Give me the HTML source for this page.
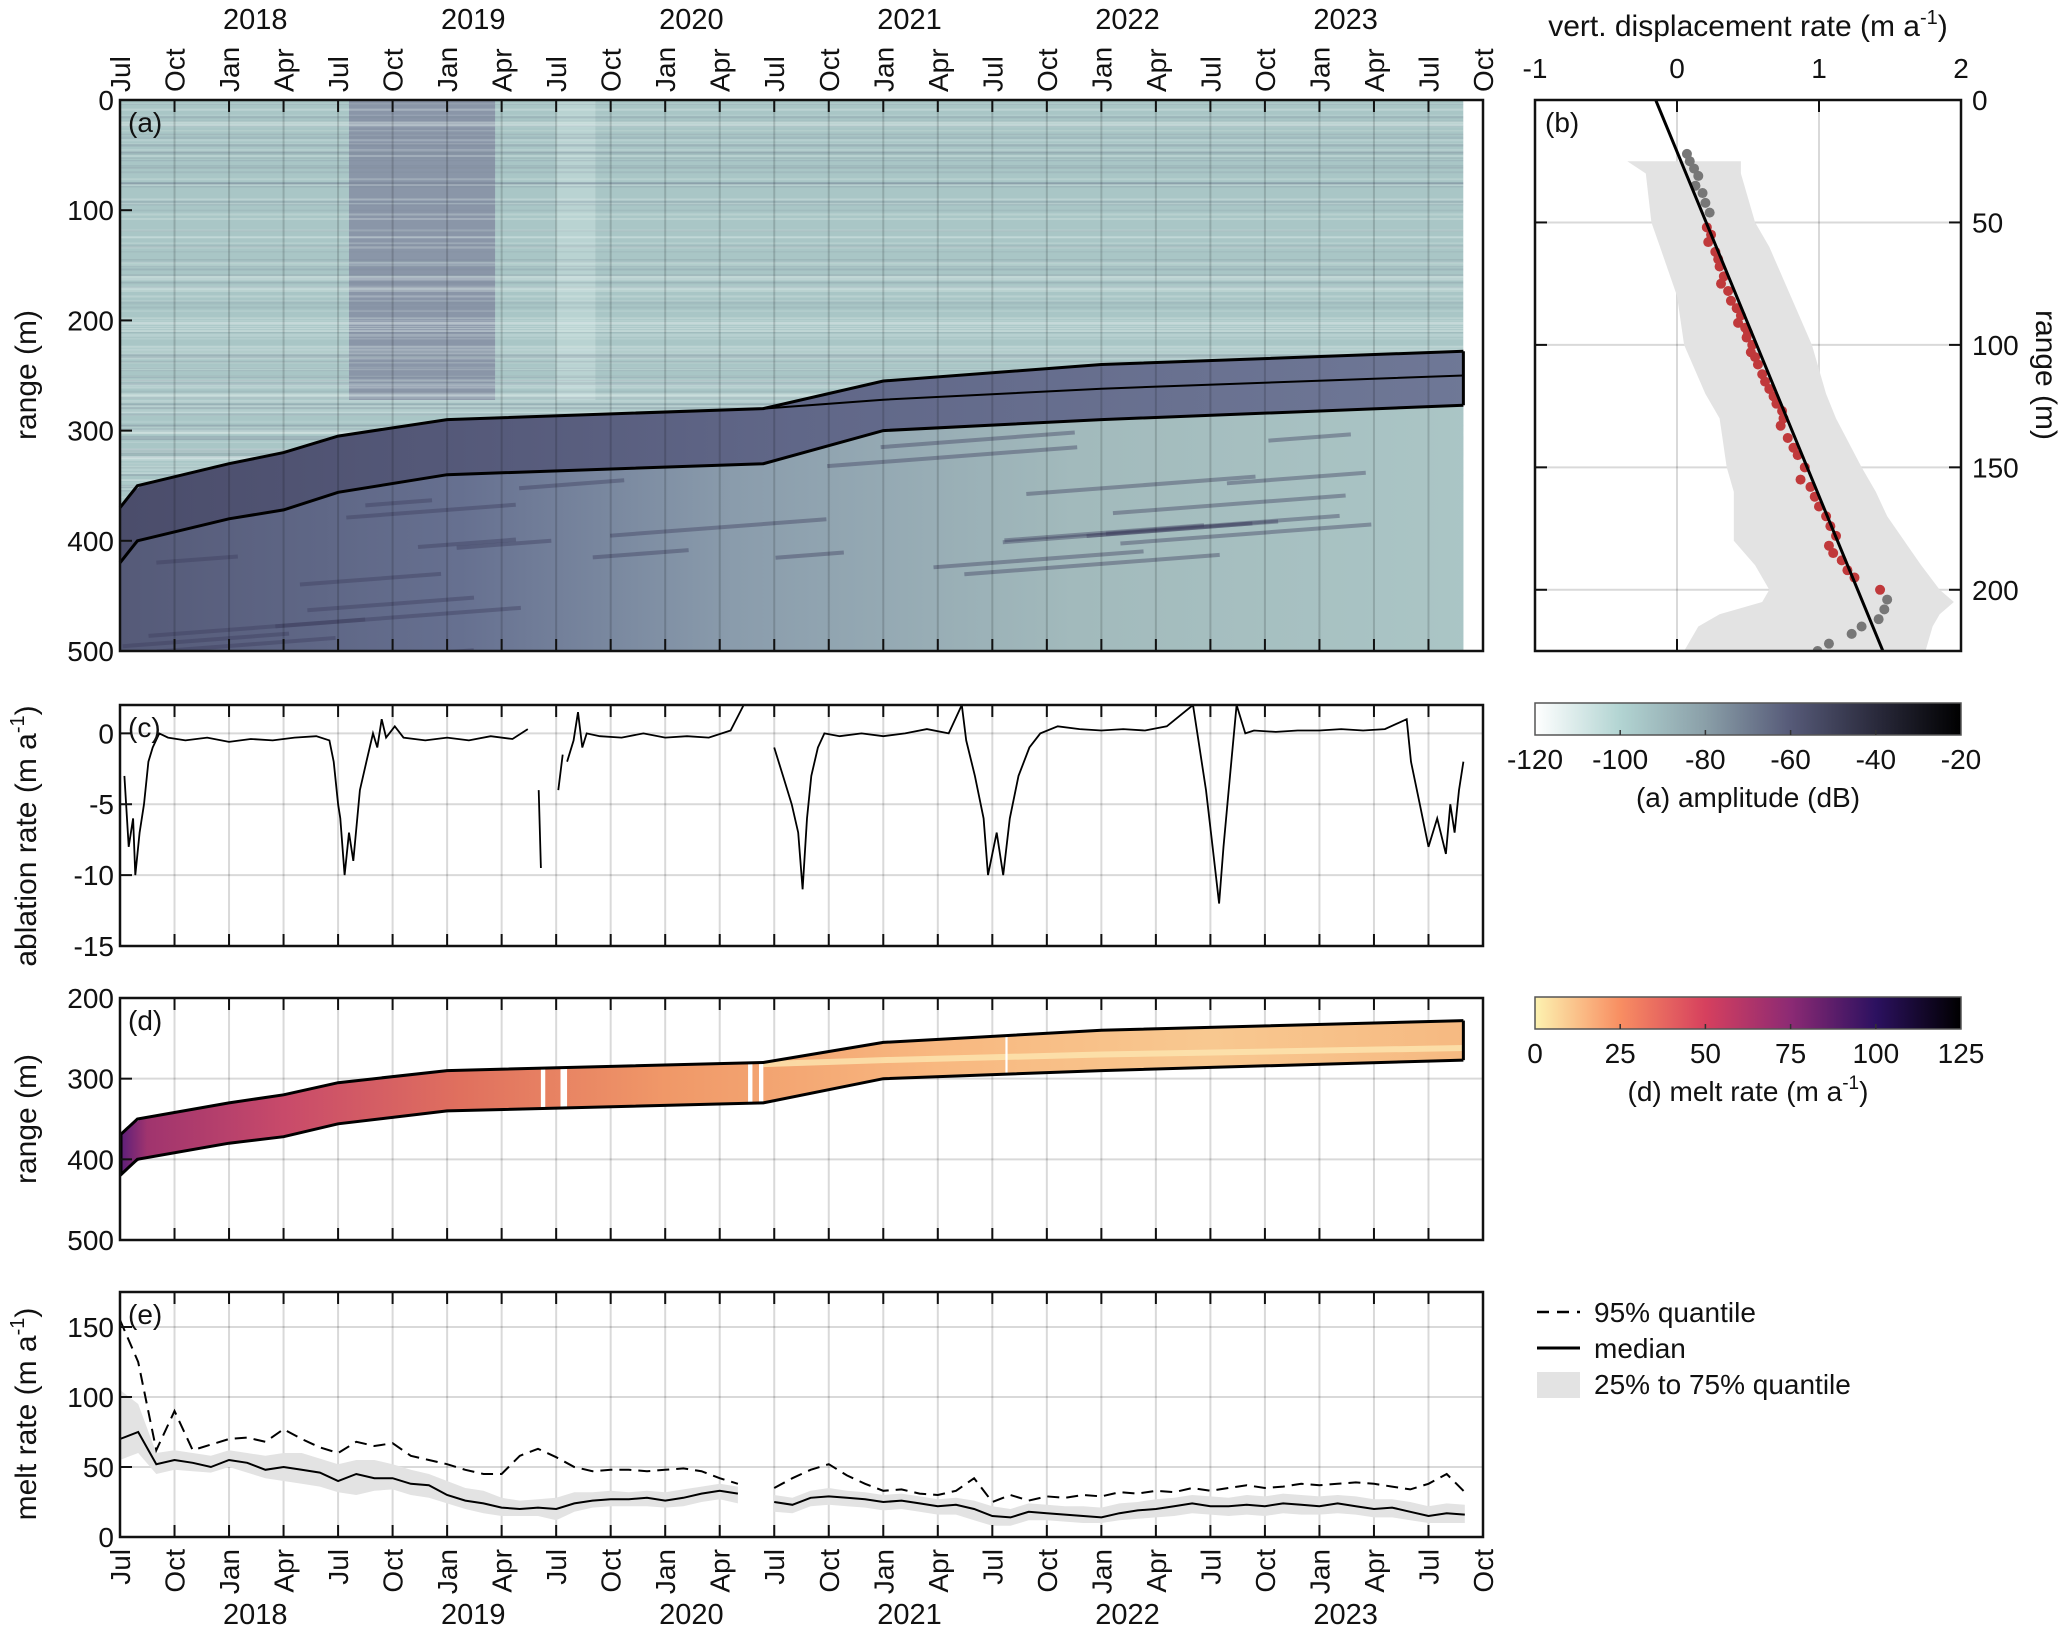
<!DOCTYPE html>
<html><head><meta charset="utf-8">
<style>
html,body{margin:0;padding:0;background:#fff;}
svg{display:block;font-family:"Liberation Sans",Arial,sans-serif;}
</style></head>
<body>
<svg id="fig" width="2067" height="1629" viewBox="0 0 2067 1629" xmlns="http://www.w3.org/2000/svg">
<defs>
<linearGradient id="cbA" x1="0" x2="1" y1="0" y2="0">
<stop offset="0" stop-color="#ffffff"/><stop offset="0.2" stop-color="#b2d4d2"/><stop offset="0.4" stop-color="#8a9fa8"/><stop offset="0.6" stop-color="#565a78"/><stop offset="0.8" stop-color="#2a2a3c"/><stop offset="1" stop-color="#000000"/>
</linearGradient>
<linearGradient id="cbD" x1="0" x2="1" y1="0" y2="0">
<stop offset="0" stop-color="#fcf2b0"/><stop offset="0.2" stop-color="#f88e62"/><stop offset="0.4" stop-color="#d6405e"/><stop offset="0.6" stop-color="#8c2a74"/><stop offset="0.8" stop-color="#2c1160"/><stop offset="1" stop-color="#000000"/>
</linearGradient>
<linearGradient id="meltFill" x1="120" x2="1483" y1="0" y2="0" gradientUnits="userSpaceOnUse">
<stop offset="0" stop-color="#5a1e7a"/><stop offset="0.02" stop-color="#a0346e"/><stop offset="0.12" stop-color="#c84a6a"/><stop offset="0.25" stop-color="#e0705e"/><stop offset="0.4" stop-color="#f09868"/><stop offset="0.6" stop-color="#f8b880"/><stop offset="0.8" stop-color="#f8c890"/><stop offset="1" stop-color="#f6b880"/>
</linearGradient>
<linearGradient id="iceFill" x1="120" x2="1483" y1="0" y2="0" gradientUnits="userSpaceOnUse">
<stop offset="0" stop-color="#555a78"/><stop offset="0.25" stop-color="#667090"/><stop offset="0.45" stop-color="#8a9cac"/><stop offset="0.7" stop-color="#a2babc"/><stop offset="1" stop-color="#abc6c6"/>
</linearGradient>
<linearGradient id="bandFill" x1="120" x2="1483" y1="0" y2="0" gradientUnits="userSpaceOnUse">
<stop offset="0" stop-color="#4a4c6a"/><stop offset="0.5" stop-color="#5e6486"/><stop offset="1" stop-color="#6c7494"/>
</linearGradient>
<clipPath id="clipA"><rect x="120" y="100" width="1363" height="551"/></clipPath>
<clipPath id="clipC"><rect x="120" y="705" width="1363" height="241"/></clipPath>
<clipPath id="clipB"><rect x="1535" y="100" width="426" height="551"/></clipPath>
</defs>
<g id="root"></g>
</svg>
<script>
// ---------- data ----------
const monthLabels = ["Jul","Oct","Jan","Apr"];
const yearLabels = [2018,2019,2020,2021,2022,2023];
// ice boundaries (decimal year, range m)
const topT = [2017.5,2017.58,2018.0,2018.25,2018.5,2019.0,2020.45,2021.0,2022.0,2023.66];
const topR = [370,350,330,320,305,290,280,255,240,228];
const botT = [2017.5,2017.58,2018.0,2018.25,2018.5,2019.0,2020.45,2021.0,2022.0,2023.66];
const botR = [420,400,380,372,356,340,330,300,290,277];
const midT = [2020.45,2021.0,2022.0,2023.66];
const midR = [280,272,262,250];
// panel c ablation rate
const cT = [2017.52,2017.54,2017.56,2017.57,2017.59,2017.61,2017.63,2017.65,2017.68,2017.72,2017.8,2017.9,2018.0,2018.1,2018.2,2018.3,2018.4,2018.46,2018.48,2018.5,2018.51,2018.53,2018.55,2018.57,2018.6,2018.63,2018.66,2018.68,2018.7,2018.72,2018.76,2018.8,2018.9,2019.0,2019.1,2019.2,2019.3,2019.37,null,2019.42,2019.43,null,2019.51,2019.53,null,2019.55,2019.58,2019.6,2019.62,2019.64,2019.7,2019.8,2019.9,2020.0,2020.1,2020.2,2020.3,2020.36,null,2020.5,2020.54,2020.58,2020.61,2020.63,2020.65,2020.67,2020.7,2020.73,2020.8,2020.9,2021.0,2021.1,2021.2,2021.3,2021.36,2021.38,2021.42,2021.46,2021.48,2021.52,2021.55,2021.58,2021.62,2021.67,2021.72,2021.8,2021.9,2022.0,2022.1,2022.2,2022.3,2022.42,2022.45,2022.48,2022.51,2022.54,2022.56,2022.59,2022.62,2022.66,2022.7,2022.8,2022.9,2023.0,2023.1,2023.2,2023.3,2023.4,2023.42,2023.46,2023.5,2023.54,2023.58,2023.6,2023.62,2023.64,2023.66];
const cV = [-3,-8,-6,-10,-7,-5,-2,-1,0,-0.3,-0.5,-0.3,-0.6,-0.4,-0.5,-0.3,-0.2,-0.5,-2,-5,-6,-10,-7,-9,-4,-2,0,-1,1,-0.3,0.5,-0.3,-0.5,-0.3,-0.5,-0.2,-0.4,0.3,null,-4,-9.5,null,-4,-1.5,null,-2,-0.5,1.5,-1,0,-0.2,-0.3,0,-0.3,-0.2,-0.3,0.2,2,null,-1,-3,-5,-7,-11,-6,-3,-1,0,-0.2,0,-0.2,0,0.3,0,2,-0.5,-3,-6,-10,-7,-10,-6,-3,-1,0,0.5,0.3,0.2,0.3,0.2,0.5,2,-1,-4,-8,-12,-8,-3,2,0,0.2,0.1,0.2,0.2,0.3,0.2,0.3,1,-2,-5,-8,-6,-8.5,-5,-7,-4,-2];
// panel e melt rate (monthly from Jul 2017)
const eStart = 2017.5;
const eMed = [70,75,52,55,53,50,55,53,48,50,48,46,40,45,42,42,38,37,30,26,24,21,20,21,20,24,26,27,27,28,26,28,31,33,31,null,25,23,28,29,28,27,25,26,24,22,23,20,15,14,18,17,16,15,14,17,19,20,22,24,22,22,23,22,24,23,22,24,22,20,21,18,15,17,16];
const eQ95 = [155,125,62,90,62,66,70,71,68,77,70,64,60,68,65,67,58,55,52,48,45,45,58,63,57,50,47,48,48,47,48,49,47,42,38,null,35,42,48,52,44,38,33,34,31,30,33,42,25,30,26,29,28,30,29,32,31,33,32,35,33,35,37,35,36,38,37,38,39,38,36,34,38,45,32];
const eLo = [55,60,45,48,47,46,50,46,42,40,38,36,32,30,33,34,30,28,24,20,17,15,15,15,12,18,21,22,22,22,21,22,25,27,24,null,18,17,22,23,22,21,19,20,18,16,16,12,8,8,12,12,11,10,10,12,13,14,15,17,16,15,16,15,17,16,16,17,16,14,14,12,10,10,10];
const eHi = [105,95,60,62,60,58,62,60,58,60,60,56,52,55,55,52,48,45,40,35,33,28,26,27,28,32,32,33,32,33,32,34,36,38,36,null,30,28,33,35,33,32,30,31,29,27,28,26,22,20,24,23,22,22,21,24,25,27,28,30,29,28,30,29,31,30,29,30,29,27,27,25,22,24,23];
// panel b
const bRedX = [0.21,0.24,0.22,0.27,0.29,0.3,0.33,0.31,0.36,0.38,0.42,0.45,0.43,0.48,0.5,0.49,0.53,0.52,0.55,0.57,0.6,0.62,0.65,0.68,0.7,0.74,0.75,0.73,0.78,0.82,0.85,0.9,0.87,0.94,0.97,1.0,1.05,1.08,1.12,1.07,1.1,1.16,1.2,1.25,1.43];
const bRedY = [52,55,58,62,65,68,72,75,78,82,85,88,91,93,95,97,100,103,105,108,112,115,118,121,124,127,130,133,138,142,145,150,155,158,162,166,170,174,178,182,185,188,192,195,200];
const bGrayX = [0.07,0.09,0.12,0.15,0.13,0.18,0.2,0.23,1.48,1.46,1.42,1.3,1.23,1.07,0.99,1.0];
const bGrayY = [22,25,28,31,35,38,42,46,204,208,212,215,218,222,225,228];
const bBandY = [25,30,40,50,60,80,100,120,130,150,160,170,180,190,200,205,210,215,225];
const bBandLo = [-0.35,-0.22,-0.2,-0.18,-0.12,0.0,0.05,0.2,0.3,0.35,0.4,0.4,0.4,0.55,0.65,0.6,0.3,0.15,0.05];
const bBandHi = [0.45,0.45,0.5,0.55,0.65,0.8,0.95,1.05,1.12,1.3,1.4,1.48,1.6,1.72,1.85,1.95,1.85,1.8,1.75];
const bFitX = [-0.15,1.45];
const bFitY = [0,225];
const cbATicks = [-120,-100,-80,-60,-40,-20];
const cbDTicks = [0,25,50,75,100,125];

// ---------- helpers ----------
const NS = "http://www.w3.org/2000/svg";
const root = document.getElementById("root");
function mk(tag, attrs, name, parent) {
  const e = document.createElementNS(NS, tag);
  for (const k in attrs) e.setAttribute(k, attrs[k]);
  
  
  (parent || root).appendChild(e);
  return e;
}
function txt(x, y, s, size, name, extra) {
  const t = mk("text", Object.assign({x: x, y: y, "font-size": size, fill: "#111"}, extra || {}), name);
  t.textContent = s;
  return t;
}
const L = 120, R = 1483, T0 = 2017.5, T1 = 2023.75;
const xT = t => L + (t - T0) / (T1 - T0) * (R - L);
const yA = v => 100 + v / 500 * 551;
const yC = v => 705 + (2 - v) / 17 * 241;
const yD = v => 998 + (v - 200) / 300 * 242;
const yE = v => 1537 - v / 175 * 245;
const xB = v => 1535 + (v + 1) / 3 * 426;
const yB = v => 100 + v / 225 * 551;
const quarters = [];
for (let i = 0; i <= 25; i++) quarters.push(T0 + i * 0.25);

function interp(ts, rs, t) {
  if (t <= ts[0]) return rs[0];
  for (let i = 1; i < ts.length; i++) if (t <= ts[i]) return rs[i-1] + (rs[i]-rs[i-1])*(t-ts[i-1])/(ts[i]-ts[i-1]);
  return rs[rs.length-1];
}
function linePath(ts, vs, fx, fy) {
  let d = "", pen = false;
  for (let i = 0; i < ts.length; i++) {
    if (ts[i] === null || vs[i] === null) { pen = false; continue; }
    d += (pen ? "L" : "M") + fx(ts[i]).toFixed(1) + "," + fy(vs[i]).toFixed(1);
    pen = true;
  }
  return d;
}
function timeGrid(top, bot, name) {
  quarters.forEach((q, i) => {
    if (i === 0 || i === 25) return;
    mk("line", {x1: xT(q), x2: xT(q), y1: top, y2: bot, stroke: "#000", "stroke-opacity": 0.15, "stroke-width": 2}, name + "-vgrid");
  });
}
function timeTicks(top, bot, name) {
  quarters.forEach((q, i) => {
    mk("line", {x1: xT(q), x2: xT(q), y1: top, y2: top + 12, stroke: "#111", "stroke-width": 2}, name + "-tick-top");
    mk("line", {x1: xT(q), x2: xT(q), y1: bot, y2: bot - 12, stroke: "#111", "stroke-width": 2}, name + "-tick-bottom");
  });
}
function yAxis(vals, fy, top, bot, name, label, labelY) {
  vals.forEach(v => {
    const y = fy(v);
    mk("line", {x1: L, x2: L + 12, y1: y, y2: y, stroke: "#111", "stroke-width": 2}, name + "-ytick");
    txt(L - 6, y + 10, String(v), 28, name + "-ytick-label", {"text-anchor": "end"});
  });
  const t = txt(0, 0, "", 30, name + "-y-axis-title", {"text-anchor": "middle", transform: "translate(36," + labelY + ") rotate(-90)"});
  t.innerHTML = label;
}
function frame(top, bot, name) {
  mk("rect", {x: L, y: top, width: R - L, height: bot - top, fill: "none", stroke: "#111", "stroke-width": 2.5}, name + "-frame");
}

// ---------- top month/year labels ----------
quarters.forEach((q, i) => {
  txt(0, 0, monthLabels[i % 4], 28, "top-month-label", {transform: "translate(" + (xT(q) + 10) + ",92) rotate(-90)"});
  txt(0, 0, monthLabels[i % 4], 28, "bottom-month-label", {"text-anchor": "end", transform: "translate(" + (xT(q) + 10) + ",1549) rotate(-90)"});
});
yearLabels.forEach(y => {
  txt(xT(y + 0.12), 29, String(y), 29, "top-year-label", {"text-anchor": "middle"});
  txt(xT(y + 0.12), 1624, String(y), 29, "bottom-year-label", {"text-anchor": "middle"});
});

// ---------- panel a ----------
const ga = mk("g", {"clip-path": "url(#clipA)"}, "panel-a-image");
mk("rect", {x: xT(T0), y: 100, width: xT(2023.66) - L, height: 551, fill: "#a9c6c6"}, "radargram-background", ga);
mk("rect", {x: xT(2018.55), y: 100, width: xT(2019.22) - xT(2018.55), height: 300, fill: "#8a96a8"}, "radargram-dark-period", ga);
mk("rect", {x: xT(2019.5), y: 100, width: xT(2019.68) - xT(2019.5), height: 300, fill: "#c4dcda", opacity: 0.6}, "radargram-light-period", ga);
// texture lines (visual only)
let seed = 7;
function rnd() { seed = (seed * 16807) % 2147483647; return seed / 2147483647; }
for (let i = 0; i < 200; i++) {
  const y = 104 + rnd() * 400;
  const light = rnd() > 0.35;
  mk("line", {x1: L, x2: xT(2023.66), y1: y, y2: y, stroke: light ? "#e4f0ee" : "#7a8898", "stroke-opacity": 0.12 + rnd() * 0.2, "stroke-width": 1 + rnd() * 1.5}, "radargram-texture", ga);
}
mk("rect", {x: xT(2023.66), y: 100, width: R - xT(2023.66), height: 551, fill: "#fff"}, "radargram-no-data", ga);
function boundaryPoly(tsTop, rsTop, bottomFn, fy) {
  let pts = [];
  const n = 120;
  for (let i = 0; i <= n; i++) { const t = T0 + (2023.66 - T0) * i / n; pts.push(xT(t).toFixed(1) + "," + fy(interp(tsTop, rsTop, t)).toFixed(1)); }
  for (let i = n; i >= 0; i--) { const t = T0 + (2023.66 - T0) * i / n; pts.push(xT(t).toFixed(1) + "," + fy(bottomFn(t)).toFixed(1)); }
  return pts.join(" ");
}
mk("polygon", {points: boundaryPoly(topT, topR, t => 500, yA), fill: "url(#iceFill)"}, "ice-below-base", ga);
mk("polygon", {points: boundaryPoly(topT, topR, t => interp(botT, botR, t), yA), fill: "url(#bandFill)", opacity: 0.95}, "ice-base-band", ga);
// dark internal layers
for (let i = 0; i < 30; i++) {
  const t0 = T0 + rnd() * 5.6, len = 0.3 + rnd() * 0.9, r0 = interp(botT, botR, t0) + 10 + rnd() * 140;
  mk("line", {x1: xT(t0), x2: xT(t0 + len), y1: yA(r0), y2: yA(r0 - 15 * len), stroke: "#3c3c5c", "stroke-opacity": 0.4, "stroke-width": 4}, "radargram-layer", ga);
}
mk("path", {d: linePath(topT, topR, xT, yA), fill: "none", stroke: "#000", "stroke-width": 3}, "ice-base-upper-line");
mk("path", {d: linePath(botT, botR, xT, yA), fill: "none", stroke: "#000", "stroke-width": 3}, "ice-base-lower-line");
mk("path", {d: linePath(midT, midR, xT, yA), fill: "none", stroke: "#000", "stroke-width": 2}, "ice-base-mid-line");
mk("line", {x1: xT(2023.66), x2: xT(2023.66), y1: yA(228), y2: yA(277), stroke: "#000", "stroke-width": 3}, "ice-base-end-line");
timeGrid(100, 651, "panel-a");
timeTicks(100, 651, "panel-a");
yAxis([0,100,200,300,400,500], yA, 100, 651, "panel-a", "range (m)", 375);
frame(100, 651, "panel-a");
txt(128, 132, "(a)", 28, "panel-a-label");

// ---------- panel b ----------
[-1,0,1,2].forEach(v => {
  if (v > -1 && v < 2) mk("line", {x1: xB(v), x2: xB(v), y1: 100, y2: 651, stroke: "#000", "stroke-opacity": 0.15, "stroke-width": 2}, "panel-b-vgrid");
  mk("line", {x1: xB(v), x2: xB(v), y1: 100, y2: 112, stroke: "#111", "stroke-width": 2}, "panel-b-xtick");
  mk("line", {x1: xB(v), x2: xB(v), y1: 651, y2: 639, stroke: "#111", "stroke-width": 2}, "panel-b-xtick");
  txt(xB(v), 78, String(v), 28, "panel-b-xtick-label", {"text-anchor": "middle"});
});
[0,50,100,150,200].forEach(v => {
  if (v > 0) mk("line", {x1: 1535, x2: 1961, y1: yB(v), y2: yB(v), stroke: "#000", "stroke-opacity": 0.15, "stroke-width": 2}, "panel-b-hgrid");
  mk("line", {x1: 1949, x2: 1961, y1: yB(v), y2: yB(v), stroke: "#111", "stroke-width": 2}, "panel-b-ytick");
  mk("line", {x1: 1535, x2: 1547, y1: yB(v), y2: yB(v), stroke: "#111", "stroke-width": 2}, "panel-b-ytick");
  txt(1972, yB(v) + 10, String(v), 28, "panel-b-ytick-label");
});
const gb = mk("g", {"clip-path": "url(#clipB)"}, "panel-b-plot");
let bandPts = [];
bBandY.forEach((y, i) => bandPts.push(xB(bBandLo[i]).toFixed(1) + "," + yB(y).toFixed(1)));
for (let i = bBandY.length - 1; i >= 0; i--) bandPts.push(xB(bBandHi[i]).toFixed(1) + "," + yB(bBandY[i]).toFixed(1));
mk("polygon", {points: bandPts.join(" "), fill: "#e3e3e3"}, "displacement-spread-band", gb);
bGrayX.forEach((x, i) => {
  mk("circle", {cx: xB(x), cy: yB(bGrayY[i]), r: 5, fill: "#777"}, "excluded-point", gb);
});
bRedX.forEach((x, i) => {
  mk("circle", {cx: xB(x), cy: yB(bRedY[i]), r: 5, fill: "#c0393b"}, "fit-point", gb);
});
mk("line", {x1: xB(bFitX[0]), y1: yB(bFitY[0]), x2: xB(bFitX[1]), y2: yB(bFitY[1]), stroke: "#000", "stroke-width": 3}, "linear-fit-line", gb);
mk("rect", {x: 1535, y: 100, width: 426, height: 551, fill: "none", stroke: "#111", "stroke-width": 2.5}, "panel-b-frame");
txt(1545, 132, "(b)", 28, "panel-b-label");
const bt = txt(1748, 36, "", 30, "panel-b-x-axis-title", {"text-anchor": "middle"});
bt.innerHTML = 'vert. displacement rate (m a<tspan dy="-12" font-size="20">-1</tspan><tspan dy="12">)</tspan>';
txt(0, 0, "range (m)", 30, "panel-b-y-axis-title", {"text-anchor": "middle", transform: "translate(2036,375) rotate(90)"});

// ---------- colorbars ----------
function colorbar(y, grad, ticks, label, name) {
  mk("rect", {x: 1535, y: y, width: 426, height: 32, fill: "url(#" + grad + ")", stroke: "#555", "stroke-width": 1.5}, name);
  ticks.forEach((v, i) => {
    const x = 1535 + i / (ticks.length - 1) * 426;
    if (i > 0 && i < ticks.length - 1) mk("line", {x1: x, x2: x, y1: y + 32, y2: y + 27, stroke: "#333", "stroke-width": 1.5}, name + "-tick");
    txt(x, y + 66, String(v), 28, name + "-tick-label", {"text-anchor": "middle"});
  });
  const t = txt(1748, y + 104, "", 28, name + "-title", {"text-anchor": "middle"});
  t.innerHTML = label;
}
colorbar(703, "cbA", cbATicks, "(a) amplitude (dB)", "amplitude-colorbar");
colorbar(997, "cbD", cbDTicks, '(d) melt rate (m a<tspan dy="-12" font-size="19">-1</tspan><tspan dy="12">)</tspan>', "melt-rate-colorbar");

// ---------- panel c ----------
[0,-5,-10].forEach(v => mk("line", {x1: L, x2: R, y1: yC(v), y2: yC(v), stroke: "#000", "stroke-opacity": 0.15, "stroke-width": 2}, "panel-c-hgrid"));
timeGrid(705, 946, "panel-c");
mk("path", {d: linePath(cT, cV, xT, yC), fill: "none", stroke: "#000", "stroke-width": 1.8, "clip-path": "url(#clipC)"}, "ablation-rate-line");
timeTicks(705, 946, "panel-c");
yAxis([0,-5,-10,-15], yC, 705, 946, "panel-c", 'ablation rate (m a<tspan dy="-12" font-size="20">-1</tspan><tspan dy="12">)</tspan>', 836);
frame(705, 946, "panel-c");
txt(128, 737, "(c)", 28, "panel-c-label");

// ---------- panel d ----------
[300,400].forEach(v => mk("line", {x1: L, x2: R, y1: yD(v), y2: yD(v), stroke: "#000", "stroke-opacity": 0.15, "stroke-width": 2}, "panel-d-hgrid"));
timeGrid(998, 1240, "panel-d");
mk("polygon", {points: boundaryPoly(topT, topR, t => interp(botT, botR, t), yD), fill: "url(#meltFill)"}, "melt-rate-image");
mk("path", {d: linePath(midT, [282,277,270,262], xT, yD), fill: "none", stroke: "#fde6b0", "stroke-width": 6, opacity: 0.8}, "melt-light-band");
[[2019.43,0.02],[2019.52,0.03],[2020.38,0.02],[2020.43,0.02],[2021.56,0.01]].forEach(g => {
  mk("rect", {x: xT(g[0]), y: yD(interp(topT, topR, g[0])), width: xT(g[0] + g[1]) - xT(g[0]), height: yD(interp(botT, botR, g[0])) - yD(interp(topT, topR, g[0])), fill: "#fff"}, "melt-data-gap");
});
mk("path", {d: linePath(topT, topR, xT, yD), fill: "none", stroke: "#000", "stroke-width": 3}, "melt-upper-boundary");
mk("path", {d: linePath(botT, botR, xT, yD), fill: "none", stroke: "#000", "stroke-width": 3}, "melt-lower-boundary");
mk("line", {x1: xT(2023.66), x2: xT(2023.66), y1: yD(228), y2: yD(277), stroke: "#000", "stroke-width": 3}, "melt-end-boundary");
mk("line", {x1: xT(2017.5) + 1, x2: xT(2017.5) + 1, y1: yD(370), y2: yD(420), stroke: "#000", "stroke-width": 3}, "melt-start-boundary");
timeTicks(998, 1240, "panel-d");
yAxis([200,300,400,500], yD, 998, 1240, "panel-d", "range (m)", 1119);
frame(998, 1240, "panel-d");
txt(128, 1030, "(d)", 28, "panel-d-label");

// ---------- panel e ----------
[50,100,150].forEach(v => mk("line", {x1: L, x2: R, y1: yE(v), y2: yE(v), stroke: "#000", "stroke-opacity": 0.15, "stroke-width": 2}, "panel-e-hgrid"));
timeGrid(1292, 1537, "panel-e");
const eT = eMed.map((v, i) => eStart + i / 12);
let seg = [];
function flushBand() {
  if (seg.length < 2) { seg = []; return; }
  let pts = seg.map(i => xT(eT[i]).toFixed(1) + "," + yE(eHi[i]).toFixed(1));
  for (let k = seg.length - 1; k >= 0; k--) pts.push(xT(eT[seg[k]]).toFixed(1) + "," + yE(eLo[seg[k]]).toFixed(1));
  mk("polygon", {points: pts.join(" "), fill: "#e3e3e3"}, "quantile-25-75-band");
  seg = [];
}
eMed.forEach((v, i) => { if (v === null) flushBand(); else seg.push(i); });
flushBand();
mk("path", {d: linePath(eT, eQ95, xT, yE), fill: "none", stroke: "#000", "stroke-width": 2, "stroke-dasharray": "12,7"}, "quantile-95-line");
mk("path", {d: linePath(eT, eMed, xT, yE), fill: "none", stroke: "#000", "stroke-width": 2}, "median-line");
timeTicks(1292, 1537, "panel-e");
yAxis([0,50,100,150], yE, 1292, 1537, "panel-e", 'melt rate (m a<tspan dy="-12" font-size="20">-1</tspan><tspan dy="12">)</tspan>', 1414);
frame(1292, 1537, "panel-e");
txt(128, 1324, "(e)", 28, "panel-e-label");

// legend
mk("line", {x1: 1537, x2: 1580, y1: 1312, y2: 1312, stroke: "#000", "stroke-width": 2.5, "stroke-dasharray": "12,8"}, "legend-95-swatch");
txt(1594, 1322, "95% quantile", 28, "legend-95-label");
mk("line", {x1: 1537, x2: 1580, y1: 1348, y2: 1348, stroke: "#000", "stroke-width": 3}, "legend-median-swatch");
txt(1594, 1358, "median", 28, "legend-median-label");
mk("rect", {x: 1537, y: 1372, width: 43, height: 26, fill: "#e3e3e3"}, "legend-band-swatch");
txt(1594, 1394, "25% to 75% quantile", 28, "legend-band-label");
</script>
</body></html>
